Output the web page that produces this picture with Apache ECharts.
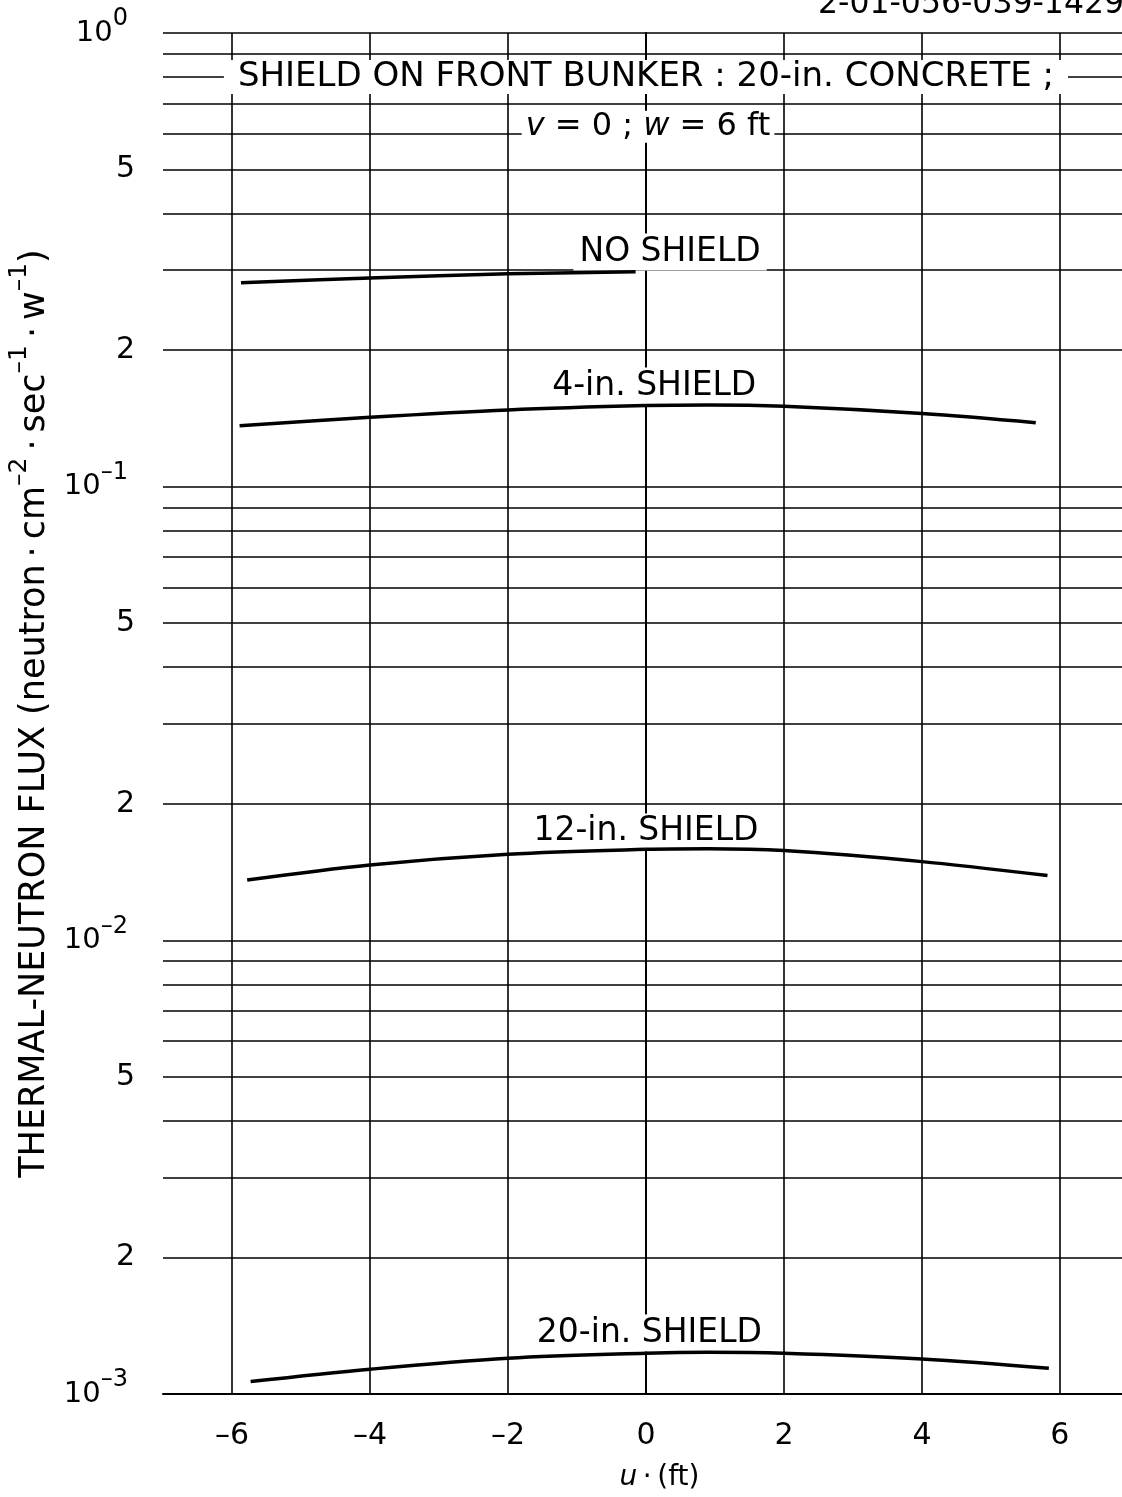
<!DOCTYPE html>
<html><head><meta charset="utf-8">
<script src="https://cdn.jsdelivr.net/npm/echarts@6/dist/echarts.min.js"></script>
<style>html,body{margin:0;padding:0;background:#fff}#c{width:1122px;height:1497px}</style>
</head><body><div id="c"></div>
<script>
const FONT = 'DejaVu Sans';

// axis ticks / grid
const xGridTicks = [-6, -4, -2, 0, 2, 4, 6];
const decadeExps = [-3, -2, -1, 0];
const minorMantissas = [2, 3, 4, 5, 6, 7, 8, 9];
const labeledMantissas = [5, 2];

// curves (u in ft, flux)
const noShieldU = [-5.87, -4, -2, -0.15];
const noShieldV = [0.2816, 0.2885, 0.2945, 0.2977];

const shield4U = [-5.89, -4, -2, 0, 0.9, 2, 4, 5.65];
const shield4V = [0.1362, 0.1422, 0.1476, 0.1509, 0.1514, 0.1504, 0.1450, 0.1384];

const shield12U = [-5.78, -4, -2, 0, 0.9, 2, 4, 5.82];
const shield12V = [0.01358, 0.01466, 0.01548, 0.01587, 0.01592, 0.01577, 0.01491, 0.01389];

const shield20U = [-5.73, -4, -2, 0, 0.9, 2, 4, 5.84];
const shield20V = [0.001065, 0.001134, 0.001199, 0.001230, 0.001236, 0.001230, 0.001195, 0.001140];

// annotation texts and anchor positions (data coords)
const curveLabels = ['NO SHIELD', '4-in. SHIELD', '12-in. SHIELD', '20-in. SHIELD'];
const curveLabelU = [0.35, 0.12, 0.0, 0.05];
const curveLabelV = [0.329, 0.1667, 0.01734, 0.001363];
const titleLine1 = 'SHIELD ON FRONT BUNKER : 20-in. CONCRETE ;';
const titleLine1Pos = [0.0, 0.80];
const titleLine2Pos = [0.03, 0.621];
const stampText = '2-01-056-039-1429';

const zip = (a, b) => a.map((v, i) => [v, b[i]]);

// grid lines
const gridLines = [];
xGridTicks.forEach(u => gridLines.push({ xAxis: u }));
decadeExps.forEach(e => {
  gridLines.push({ yAxis: Math.pow(10, e) });
  if (e < 0) {
    minorMantissas.forEach(m => {
      const item = { yAxis: m * Math.pow(10, e) };
      if (labeledMantissas.indexOf(m) >= 0) {
        item.label = {
          show: true, position: 'start', distance: 28, formatter: String(m),
          fontFamily: FONT, fontSize: 30, color: '#000'
        };
      }
      gridLines.push(item);
    });
  }
});

const lineSeries = (name, u, v) => ({
  name, type: 'line', data: zip(u, v), symbol: 'none', smooth: 0.35, z: 10,
  lineStyle: { color: '#000', width: 3.5 }, silent: true
});

const labelStyle = {
  show: true, position: 'inside', color: '#000', fontFamily: FONT, fontSize: 33,
  backgroundColor: '#fff', padding: [2, 6]
};

const markPoints = curveLabels.map((t, i) => ({
  coord: [curveLabelU[i], curveLabelV[i]],
  label: Object.assign({}, labelStyle, { formatter: t })
}));
markPoints.push({
  coord: titleLine1Pos,
  label: Object.assign({}, labelStyle, { formatter: titleLine1, fontSize: 34, padding: [0, 14] })
});
markPoints.push({
  coord: titleLine2Pos,
  label: Object.assign({}, labelStyle, {
    formatter: '{i|v} = 0 ; {i|w} = 6 ft', fontSize: 32, padding: [0, 4],
    rich: { i: { fontStyle: 'italic', fontFamily: FONT, fontSize: 32, color: '#000' } }
  })
});

const chart = echarts.init(document.getElementById('c'), null, { renderer: 'canvas' });
chart.setOption({
  backgroundColor: '#fff',
  animation: false,
  grid: { left: 163, top: 33, right: 0, bottom: 103, containLabel: false, outerBoundsMode: 'none' },
  xAxis: {
    type: 'value', min: -7, max: 6.9, interval: 1,
    axisLine: { show: true, lineStyle: { color: '#000', width: 2 } },
    axisTick: { show: false },
    splitLine: { show: false },
    axisLabel: {
      margin: 27, fontFamily: FONT, fontSize: 30, color: '#000', hideOverlap: false,
      formatter: v => (Math.abs(v - Math.round(v)) < 1e-9 && xGridTicks.indexOf(Math.round(v)) >= 0)
        ? (v < 0 ? '\u2013' + (-Math.round(v)) : String(Math.round(v))) : ''
    },
    name: '{i|u}{t|\u2009\u00b7\u2009(ft)}',
    nameLocation: 'middle', nameGap: 70,
    nameTextStyle: {
      padding: [0, 0, 0, 34],
      rich: {
        i: { fontFamily: FONT, fontStyle: 'italic', fontSize: 28, color: '#000' },
        t: { fontFamily: FONT, fontSize: 28, color: '#000' }
      }
    }
  },
  yAxis: {
    type: 'log', logBase: 10, min: 0.001, max: 1,
    axisLine: { show: true, lineStyle: { color: '#000', width: 2 } },
    axisTick: { show: false },
    splitLine: { show: false },
    axisLabel: {
      margin: 35,
      formatter: v => {
        const e = Math.round(Math.log10(v));
        return '{b|10}{s|' + (e === 0 ? '0' : '\u2013' + (-e)) + '}';
      },
      rich: {
        b: { fontFamily: FONT, fontSize: 29, color: '#000', lineHeight: 52, verticalAlign: 'middle' },
        s: { fontFamily: FONT, fontSize: 24, color: '#000', lineHeight: 24, verticalAlign: 'top' }
      }
    },
    name: '{t|THERMAL-NEUTRON FLUX (neutron\u2009\u00b7\u2009cm}{s|\u20132}{t|\u2009\u00b7\u2009sec}{s|\u20131}{t|\u2009\u00b7\u2009w}{s|\u20131}{t|)}',
    nameLocation: 'middle', nameRotate: 90, nameGap: 100,
    nameTextStyle: {
      rich: {
        t: { fontFamily: FONT, fontSize: 35, color: '#000', lineHeight: 56, verticalAlign: 'middle' },
        s: { fontFamily: FONT, fontSize: 25, color: '#000', lineHeight: 25, verticalAlign: 'top' }
      }
    }
  },
  graphic: [{
    type: 'text', left: 818, top: -11,
    style: { text: stampText, fontFamily: FONT, fontSize: 31.5, fill: '#000' }
  }],
  series: [
    {
      name: 'grid', type: 'line', data: [], z: 1, silent: true,
      markLine: {
        silent: true, symbol: ['none', 'none'], animation: false, precision: 12,
        label: { show: false },
        lineStyle: { color: '#000', width: 1.6, type: 'solid' },
        emphasis: { disabled: true },
        data: gridLines
      }
    },
    {
      name: 'labels', type: 'line', data: [], z: 5, silent: true,
      markPoint: {
        silent: true, symbol: 'circle', symbolSize: 1, animation: false,
        itemStyle: { color: 'rgba(0,0,0,0)' },
        data: markPoints
      }
    },
    lineSeries('NO SHIELD', noShieldU, noShieldV),
    lineSeries('4-in. SHIELD', shield4U, shield4V),
    lineSeries('12-in. SHIELD', shield12U, shield12V),
    lineSeries('20-in. SHIELD', shield20U, shield20V)
  ]
});
</script></body></html>
